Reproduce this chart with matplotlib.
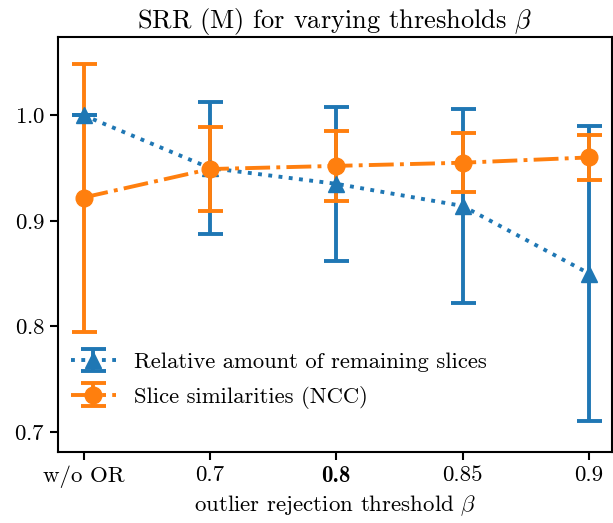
import matplotlib
matplotlib.use("Agg")
from matplotlib import pyplot as plt

plt.rcParams["font.family"] = "cmr10"
plt.rcParams["mathtext.fontset"] = "cm"
plt.rcParams["axes.unicode_minus"] = False
plt.rcParams["axes.formatter.use_mathtext"] = True

labels = ["w/o OR", "0.7", "0.8", "0.85", "0.9"]
x = [0, 1, 2, 3, 4]

slices_mean = [1.0, 0.950, 0.935, 0.914, 0.850]
slices_err = [0.0, 0.063, 0.073, 0.092, 0.140]

ncc_mean = [0.922, 0.949, 0.952, 0.955, 0.960]
ncc_err = [0.127, 0.040, 0.033, 0.028, 0.021]

fig = plt.figure(figsize=(6.13, 5.23), dpi=100)
ax = fig.add_axes([0.095, 0.136, 0.903, 0.793])

ax.errorbar(x, slices_mean, yerr=slices_err, fmt="^", linestyle=":",
            color="tab:blue", markersize=12, linewidth=2.8, elinewidth=2.8,
            capsize=9, capthick=2.8, label="Relative amount of remaining slices")
ax.errorbar(x, ncc_mean, yerr=ncc_err, fmt="o", linestyle="-.",
            color="tab:orange", markersize=12, linewidth=2.8, elinewidth=2.8,
            capsize=9, capthick=2.8, label="Slice similarities (NCC)")

ax.set_xticks(x)
ax.set_xticklabels(labels)
ax.get_xticklabels()[2].set_fontfamily("cmb10")
ax.set_yticks([0.7, 0.8, 0.9, 1.0])
ax.set_xlim(-0.2, 4.18)
ax.set_ylim(0.681, 1.074)
ax.tick_params(labelsize=16.5, width=1.5, length=6)
for s in ax.spines.values():
    s.set_linewidth(1.5)

ax.set_title(r"SRR (M) for varying thresholds $\beta$", fontsize=19)
ax.set_xlabel(r"outlier rejection threshold $\beta$", fontsize=16.5)
ax.legend(loc="lower left", frameon=False, fontsize=16.3, labelspacing=0.6,
          bbox_to_anchor=(-0.014, 0.055))

fig.savefig("out.png")
